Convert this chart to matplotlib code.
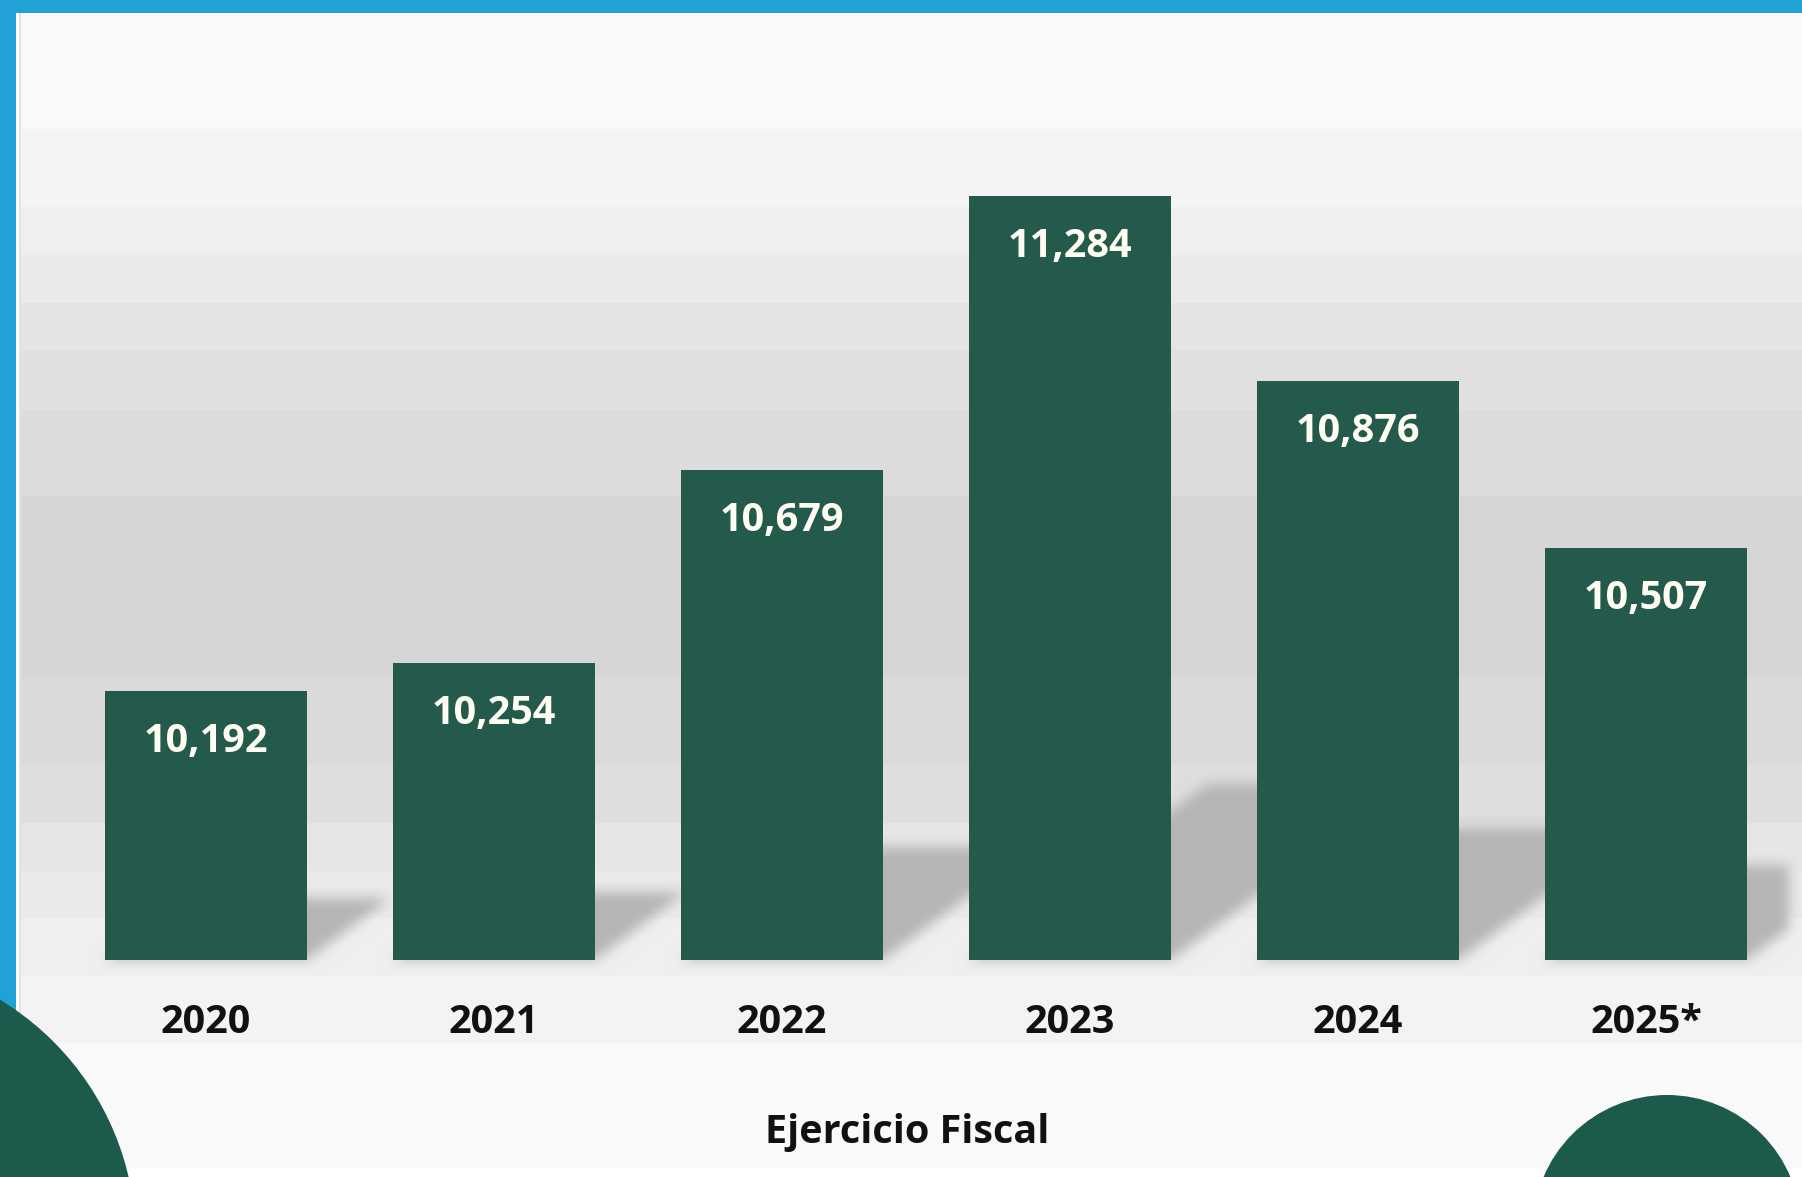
import numpy as np
import matplotlib
matplotlib.use('Agg')
import matplotlib.pyplot as plt
from matplotlib.path import Path
from matplotlib.patches import Circle, Rectangle

# Data
years = ['2020', '2021', '2022', '2023', '2024', '2025*']
values = [10192, 10254, 10679, 11284, 10876, 10507]
axis_title = 'Ejercicio Fiscal'

W, H = 1802, 1177
bar_color = '#235a4c'
circle_color = '#1c5b4b'
blue = '#20a2d6'

plt.rcParams['font.family'] = ['Open Sans', 'DejaVu Sans']

fig = plt.figure(figsize=(W / 100, H / 100), dpi=100)

# background axes in pixel coordinates
bg = fig.add_axes([0, 0, 1, 1])
bg.set_xlim(0, W)
bg.set_ylim(H, 0)
bg.axis('off')

# main chart axes
ax = fig.add_axes([62 / W, (H - 960) / H, 1728 / W, 817 / H])
ax.set_facecolor('none')
x = np.arange(len(years))
ax.bar(x, values, width=0.70, color=bar_color, zorder=3)
ax.set_xlim(-0.5, len(years) - 0.5)
ax.set_ylim(9600, 11400)
ax.axis('off')

for i, v in enumerate(values):
    ax.annotate(f'{v:,}', (i, v), xytext=(0, -44), textcoords='offset points',
                ha='center', va='baseline', fontsize=28.5, fontweight='bold',
                color='#fffdf2', zorder=4)
    ax.annotate(years[i], (i, 9600), xytext=(0, -52.5), textcoords='offset points',
                ha='center', va='baseline', fontsize=28.5, fontweight='bold',
                color='#111111', annotation_clip=False)

fig.text(907.5 / W, (H - 1143) / H, axis_title, ha='center', va='baseline',
         fontsize=28.5, fontweight='bold', color='#111111')

# stepped gray background
img = np.full((H, W), 255.0)
bands = [(13, 129, 249), (129, 207, 244), (207, 255, 239), (255, 303, 234),
         (303, 350, 228), (350, 410, 224), (410, 496, 220), (496, 677, 214),
         (677, 764, 218), (764, 823, 222), (823, 871, 230), (871, 918, 234),
         (918, 976, 239), (976, 1043, 243), (1043, 1168, 249)]
for y0, y1, g in bands:
    img[y0:y1, :] = g

# bar shadows, computed from the bar geometry
fig.canvas.draw()
mask = np.zeros((H, W))
s = 1.35
x_right_lim = ax.transAxes.transform((1, 0))[0]
for i, v in enumerate(values):
    (lx, by), (rx, ty) = ax.transData.transform([(i - 0.35, 9600), (i + 0.35, v)])
    by, ty = H - by, H - ty
    hs = 0.23 * (by - ty)
    poly = [(lx, by), (rx, by), (rx + s * hs, by - hs), (lx + s * hs, by - hs)]
    x0, x1 = int(lx), int(min(rx + s * hs + 2, x_right_lim))
    y0, y1 = int(by - hs - 2), int(by + 2)
    gx, gy = np.meshgrid(np.arange(x0, x1) + 0.5, np.arange(y0, y1) + 0.5)
    inside = Path(poly).contains_points(np.c_[gx.ravel(), gy.ravel()])
    mask[y0:y1, x0:x1] = np.maximum(mask[y0:y1, x0:x1],
                                    inside.reshape(gx.shape).astype(float))


def box_blur(a, r):
    k = 2 * r + 1
    for axis in (0, 1):
        pad = [(0, 0), (0, 0)]
        pad[axis] = (r, r)
        p = np.pad(a, pad, mode='edge')
        c = np.cumsum(p, axis=axis)
        c = np.concatenate([np.zeros_like(np.take(c, [0], axis=axis)), c], axis=axis)
        a = (np.take(c, range(k, c.shape[axis]), axis=axis)
             - np.take(c, range(0, c.shape[axis] - k), axis=axis)) / k
    return a


mask = box_blur(box_blur(mask, 7), 6)
img = img * (1 - mask) + 182 * mask

# left strip: white gap and thin gray line
img[:, 16:19] = 255
img[13:, 19:21] = 226

rgb = np.repeat((img / 255.0)[:, :, None], 3, axis=2)
bg.imshow(rgb, extent=(0, W, H, 0), interpolation='nearest', zorder=0)

# blue frame (top and left)
bg.add_patch(Rectangle((0, 0), W, 13, color=blue, zorder=1, lw=0))
bg.add_patch(Rectangle((0, 0), 16, H, color=blue, zorder=1, lw=0))

# decorative circles
bg.add_patch(Circle((-146, 1241), 282, color=circle_color, zorder=2, lw=0))
bg.add_patch(Circle((1667, 1229), 134, color=circle_color, zorder=2, lw=0))
bg.set_xlim(0, W)
bg.set_ylim(H, 0)

fig.savefig('out.png', dpi=100)
